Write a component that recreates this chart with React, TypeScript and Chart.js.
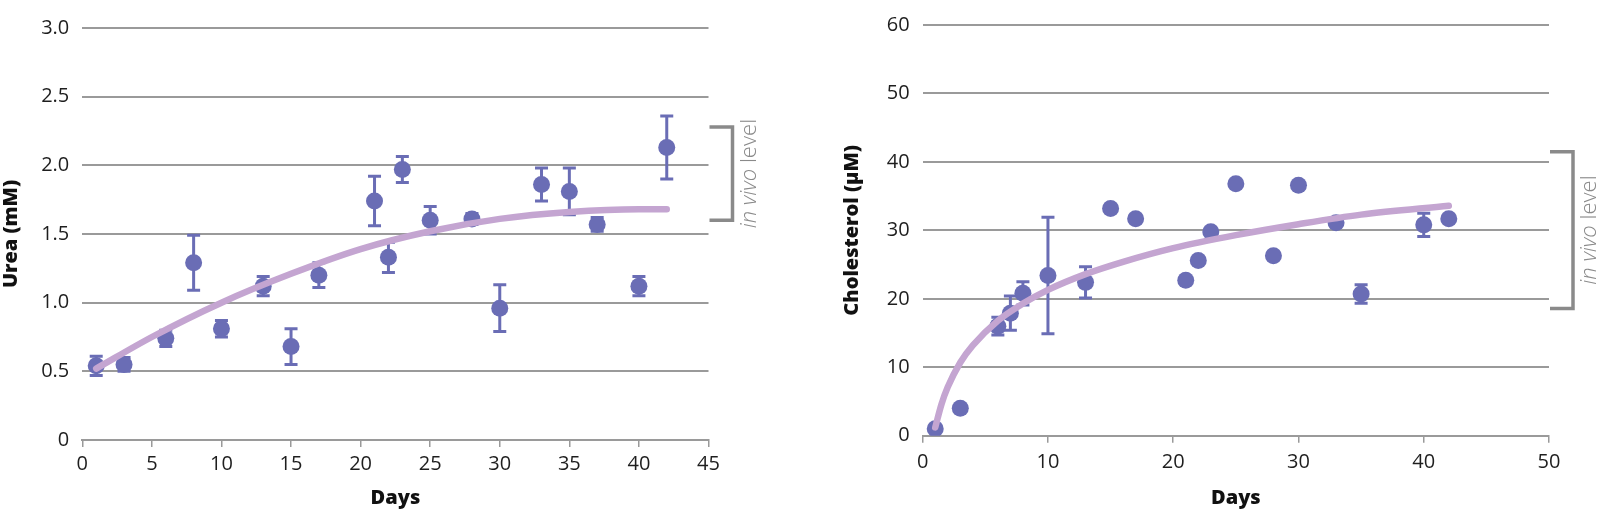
import React, { useEffect, useRef } from 'react';
import { Chart, registerables } from 'chart.js';

Chart.register(...registerables);

// Urea panel
const ureaDays = [1, 3, 6, 8, 10, 13, 15, 17, 21, 22, 23, 25, 28, 30, 33, 35, 37, 40, 42];
const ureaValues = [0.54, 0.55, 0.74, 1.29, 0.81, 1.12, 0.68, 1.2, 1.74, 1.33, 1.97, 1.6, 1.61, 0.96, 1.86, 1.81, 1.57, 1.12, 2.13];
const ureaErrors = [0.07, 0.05, 0.06, 0.2, 0.06, 0.07, 0.13, 0.09, 0.18, 0.11, 0.095, 0.1, 0.04, 0.17, 0.12, 0.17, 0.05, 0.07, 0.23];
const ureaFitDays = [1, 5, 10, 15, 20, 25, 30, 35, 40, 42];
const ureaFit = [0.52, 0.75, 1.0, 1.21, 1.39, 1.52, 1.61, 1.66, 1.68, 1.68];
const ureaYTicks = ['0', '0.5', '1.0', '1.5', '2.0', '2.5', '3.0'];
const ureaXTicks = ['0', '5', '10', '15', '20', '25', '30', '35', '40', '45'];
const ureaVivo = [1.6, 2.28];

// Cholesterol panel
const cholDays = [1, 3, 6, 7, 8, 10, 13, 15, 17, 21, 22, 23, 25, 28, 30, 33, 35, 40, 42];
const cholValues = [1.0, 4.0, 16.0, 17.9, 20.8, 23.4, 22.4, 33.2, 31.7, 22.7, 25.6, 29.8, 36.8, 26.3, 36.6, 31.1, 20.7, 30.8, 31.7];
const cholErrors = [0, 0, 1.3, 2.5, 1.7, 8.5, 2.3, 0, 0, 0, 0, 0, 0, 0, 0, 0, 1.35, 1.7, 0];
const cholFitDays = [1, 1.5, 2, 3, 4, 6, 8, 10, 13, 16, 20, 25, 30, 35, 42];
const cholFit = [1.2, 4.6, 7.1, 10.7, 13.2, 16.8, 19.3, 21.3, 23.6, 25.4, 27.4, 29.3, 30.9, 32.3, 33.6];
const cholYTicks = ['0', '10', '20', '30', '40', '50', '60'];
const cholXTicks = ['0', '10', '20', '30', '40', '50'];
const cholVivo = [18.6, 41.5];

const FONT = "'Open Sans', sans-serif";
const POINT_COLOR = '#6a6db5';
const FIT_COLOR = '#c4a5d1';
const GRID_COLOR = '#9a9a9a';
const BRACKET_COLOR = '#8a8a8a';

const errorBars = (errors: number[]) => ({
  id: 'errorBars',
  beforeDatasetsDraw(chart: any) {
    const meta = chart.getDatasetMeta(1);
    const yScale = chart.scales.y;
    const ctx = chart.ctx;
    ctx.save();
    ctx.strokeStyle = POINT_COLOR;
    ctx.lineWidth = 3;
    meta.data.forEach((pt: any, i: number) => {
      const e = errors[i];
      if (!e) return;
      const v = chart.data.datasets[1].data[i].y;
      const top = yScale.getPixelForValue(v + e);
      const bot = yScale.getPixelForValue(v - e);
      ctx.beginPath();
      ctx.moveTo(pt.x, top);
      ctx.lineTo(pt.x, bot);
      ctx.moveTo(pt.x - 6.5, top);
      ctx.lineTo(pt.x + 6.5, top);
      ctx.moveTo(pt.x - 6.5, bot);
      ctx.lineTo(pt.x + 6.5, bot);
      ctx.stroke();
    });
    ctx.restore();
  },
});

const vivoBracket = (range: number[]) => ({
  id: 'vivoBracket',
  afterDraw(chart: any) {
    const { ctx, chartArea } = chart;
    const yScale = chart.scales.y;
    const top = yScale.getPixelForValue(range[1]);
    const bot = yScale.getPixelForValue(range[0]);
    const x0 = chartArea.right + 1;
    const x1 = chartArea.right + 24;
    ctx.save();
    ctx.strokeStyle = BRACKET_COLOR;
    ctx.lineWidth = 3.5;
    ctx.beginPath();
    ctx.moveTo(x0, top);
    ctx.lineTo(x1, top);
    ctx.lineTo(x1, bot);
    ctx.lineTo(x0, bot);
    ctx.stroke();

    // rotated label: "in vivo" italic, "level" upright
    ctx.translate(chartArea.right + 41, (top + bot) / 2);
    ctx.rotate(-Math.PI / 2);
    ctx.fillStyle = BRACKET_COLOR;
    ctx.textBaseline = 'middle';
    ctx.textAlign = 'left';
    const italic = `italic 300 22px ${FONT}`;
    const normal = `300 22px ${FONT}`;
    ctx.font = italic;
    const w1 = ctx.measureText('in vivo').width;
    ctx.font = normal;
    const w2 = ctx.measureText(' level').width;
    const start = -(w1 + w2) / 2;
    ctx.font = italic;
    ctx.fillText('in vivo', start, 0);
    ctx.font = normal;
    ctx.fillText(' level', start + w1, 0);
    ctx.restore();
  },
});

interface PanelProps {
  days: number[];
  values: number[];
  errors: number[];
  fitDays: number[];
  fit: number[];
  yTicks: string[];
  xTicks: string[];
  vivo: number[];
  yMax: number;
  yStep: number;
  xMax: number;
  xStep: number;
  yTitle: string;
  padding: { left: number; right: number; top: number };
  yWidth: number;
  xHeight: number;
  xTickPad: number;
}

const Panel: React.FC<PanelProps> = (p) => {
  const canvasRef = useRef<HTMLCanvasElement>(null);

  useEffect(() => {
    if (!canvasRef.current) return;
    const chart = new Chart(canvasRef.current, {
      type: 'scatter',
      data: {
        datasets: [
          {
            type: 'line',
            data: p.fitDays.map((d, i) => ({ x: d, y: p.fit[i] })),
            borderColor: FIT_COLOR,
            borderWidth: 6.5,
            borderCapStyle: 'round',
            pointRadius: 0,
            cubicInterpolationMode: 'monotone',
            fill: false,
            order: 0,
          } as any,
          {
            type: 'scatter',
            data: p.days.map((d, i) => ({ x: d, y: p.values[i] })),
            backgroundColor: POINT_COLOR,
            borderWidth: 0,
            pointRadius: 8.5,
            order: 1,
          },
        ],
      },
      options: {
        animation: false,
        responsive: true,
        maintainAspectRatio: false,
        layout: { padding: { left: p.padding.left, right: p.padding.right, top: p.padding.top, bottom: 0 } },
        plugins: { legend: { display: false }, tooltip: { enabled: false } },
        scales: {
          x: {
            type: 'linear',
            min: 0,
            max: p.xMax,
            afterFit: (s: any) => { s.height = p.xHeight; },
            grid: { drawOnChartArea: false, drawTicks: true, tickLength: 7, color: GRID_COLOR, lineWidth: 1.5 },
            border: { display: true, color: GRID_COLOR, width: 2 },
            ticks: {
              stepSize: p.xStep,
              padding: p.xTickPad,
              color: '#1e1e1e',
              font: { family: FONT, size: 20 },
              callback: (_v: any, i: number) => p.xTicks[i],
            },
            title: {
              display: true,
              text: 'Days',
              color: '#111',
              font: { family: FONT, size: 20, weight: 800, lineHeight: 1 },
              padding: { top: 0, bottom: 8 },
            },
          },
          y: {
            type: 'linear',
            min: 0,
            max: p.yMax,
            afterFit: (s: any) => { s.width = p.yWidth; },
            grid: { drawTicks: false, color: GRID_COLOR, lineWidth: 2 },
            border: { display: false },
            ticks: {
              stepSize: p.yStep,
              padding: 13,
              color: '#1e1e1e',
              font: { family: FONT, size: 20 },
              callback: (_v: any, i: number) => p.yTicks[i],
            },
            title: {
              display: true,
              text: p.yTitle,
              color: '#111',
              font: { family: FONT, size: 20, weight: 800, lineHeight: 1 },
              padding: { top: 1, bottom: 0 },
            },
          },
        },
      },
      plugins: [errorBars(p.errors), vivoBracket(p.vivo)],
    } as any);
    return () => chart.destroy();
  }, []);

  return <canvas ref={canvasRef}></canvas>;
};

export default function App() {
  return (
    <div style={{ position: 'absolute', left: 0, top: 0, width: 1609, height: 516, background: '#fff' }}>
      <div style={{ position: 'absolute', left: 0, top: 0, width: 800, height: 516 }}>
        <Panel
          days={ureaDays}
          values={ureaValues}
          errors={ureaErrors}
          fitDays={ureaFitDays}
          fit={ureaFit}
          yTicks={ureaYTicks}
          xTicks={ureaXTicks}
          vivo={ureaVivo}
          yMax={3}
          yStep={0.5}
          xMax={45}
          xStep={5}
          yTitle="Urea (mM)"
          padding={{ left: 0, right: 91.5, top: 28 }}
          yWidth={82.3}
          xHeight={76}
          xTickPad={5}
        />
      </div>
      <div style={{ position: 'absolute', left: 800, top: 0, width: 809, height: 516 }}>
        <Panel
          days={cholDays}
          values={cholValues}
          errors={cholErrors}
          fitDays={cholFitDays}
          fit={cholFit}
          yTicks={cholYTicks}
          xTicks={cholXTicks}
          vivo={cholVivo}
          yMax={60}
          yStep={10}
          xMax={50}
          xStep={10}
          yTitle="Cholesterol (µM)"
          padding={{ left: 41.7, right: 60, top: 24 }}
          yWidth={81}
          xHeight={80.3}
          xTickPad={8}
        />
      </div>
    </div>
  );
}
